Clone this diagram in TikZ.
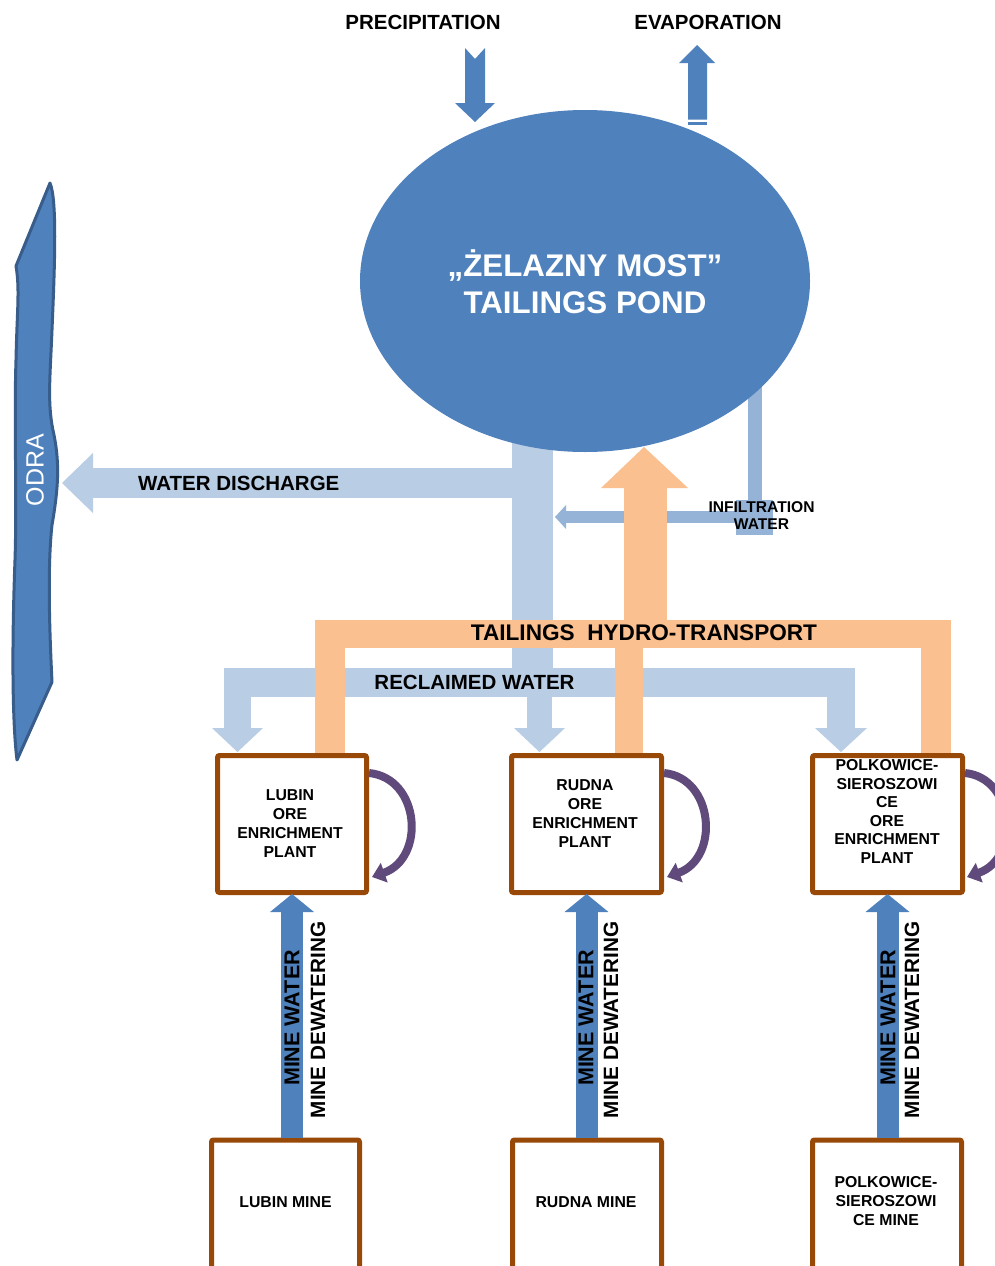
\documentclass[tikz,border=0pt]{standalone}
\usepackage{fontspec}
\setmainfont{Liberation Sans}
\usetikzlibrary{arrows.meta,shapes.geometric}
\definecolor{pond}{HTML}{4F81BD}
\definecolor{riveredge}{HTML}{385D8A}
\definecolor{lightb}{HTML}{B9CDE5}
\definecolor{infil}{HTML}{95B3D7}
\definecolor{tail}{HTML}{FAC090}
\definecolor{brownb}{HTML}{984807}
\definecolor{purp}{HTML}{604A7B}
\begin{document}
\begin{tikzpicture}[x=1pt,y=-1pt,
  biglabel/.style={font=\bfseries\fontsize{20.5}{24}\selectfont, inner sep=0pt},
  smalllabel/.style={font=\bfseries\fontsize{15.8}{19}\selectfont, align=center, inner sep=0pt},
  boxstyle/.style={draw=brownb, line width=5pt, rounded corners=2pt, fill=white, inner sep=0pt},
  loop/.style={draw=purp, line width=8pt, -{Triangle[width=20pt,length=13pt]}},
  minearrow/.style={draw=pond, line width=22pt, -{Triangle[width=43pt,length=18pt]}},
  vlabel/.style={font=\bfseries\fontsize{21.5}{24}\selectfont, rotate=90, inner sep=0pt},
  vlabelb/.style={font=\bfseries\fontsize{20.7}{24}\selectfont, rotate=90, inner sep=0pt}]
\useasboundingbox (0,0) rectangle (995,1266);
\fill[white] (0,0) rectangle (995,1266);

% ---- river ODRA
\draw[fill=pond, draw=riveredge, line width=3pt, line join=round]
  (50,183) .. controls (57,200) and (55,260) .. (52,330)
  .. controls (50,380) and (47,405) .. (54,435)
  .. controls (60,465) and (58,490) .. (52,525)
  .. controls (47,570) and (50,640) .. (52,682)
  -- (17,760)
  .. controls (12,720) and (12,640) .. (15,560)
  .. controls (17,500) and (14,420) .. (16,360)
  .. controls (17,310) and (20,290) .. (16,266)
  -- cycle;
\node[font=\fontsize{25}{30}\selectfont, text=white, rotate=90, inner sep=0pt] (odra) at (35,470) {ODRA};

% ---- light blue (reclaimed / discharge)
\fill[lightb] (512,430) rectangle (553,668);
\fill[lightb] (93,468) rectangle (512,498);
\fill[lightb] (93,453) -- (62,483) -- (93,513) -- cycle;
\fill[lightb] (224,668) rectangle (855,697);
\fill[lightb] (224,697) rectangle (251,728);
\fill[lightb] (212,728) -- (263,728) -- (237.5,752) -- cycle;
\fill[lightb] (527,697) rectangle (552,728);
\fill[lightb] (514,728) -- (565,728) -- (539.5,752) -- cycle;
\fill[lightb] (827,697) rectangle (855,728);
\fill[lightb] (815,728) -- (867,728) -- (841,752) -- cycle;

% ---- infiltration
\fill[infil] (748,380) rectangle (762,500);
\fill[infil] (736,500) rectangle (773,535);
\fill[infil] (566,511) rectangle (748,523);
\fill[infil] (566,505) -- (555,517) -- (566,529) -- cycle;

% ---- pond
\node[ellipse, fill=pond, minimum width=450pt, minimum height=342pt, inner sep=0pt] (pond) at (585,281) {};
\node[font=\bfseries\fontsize{31.3}{37}\selectfont, text=white, align=center, inner sep=0pt] (pondtxt) at (585,282) {„ŻELAZNY MOST”\\TAILINGS POND};

% ---- precipitation / evaporation
\fill[pond] (465,48) -- (475,59) -- (485,48) -- (485,103) -- (495,103) -- (475,122) -- (455,103) -- (465,103) -- cycle;
\fill[pond] (688,119.5) -- (688,63) -- (679,63) -- (697,45) -- (715,63) -- (707,63) -- (707,119.5) -- cycle;
\fill[pond] (688,121.5) rectangle (707,125);
\node[biglabel] (precip) at (423,22) {PRECIPITATION};
\node[biglabel] (evap) at (708,22) {EVAPORATION};

% ---- tailings hydro-transport (orange)
\fill[tail] (624,620) rectangle (667,488);
\fill[tail] (601,488) -- (644,447) -- (688,488) -- cycle;
\fill[tail] (315,620) rectangle (951,648);
\fill[tail] (315,648) rectangle (345,754);
\fill[tail] (615,648) rectangle (643,754);
\fill[tail] (921,648) rectangle (951,754);

% ---- plants
\node[boxstyle, minimum width=149pt, minimum height=137pt] (lubinplant) at (292,824) {};
\node[boxstyle, minimum width=150pt, minimum height=137pt] (rudnaplant) at (586.5,824) {};
\node[boxstyle, minimum width=150pt, minimum height=137pt] (polkplant) at (887.5,824) {};
\node[smalllabel] (lubinptxt) at (290,823.5) {LUBIN\\ORE\\ENRICHMENT\\PLANT};
\node[smalllabel] (rudnaptxt) at (585,813.5) {RUDNA\\ORE\\ENRICHMENT\\PLANT};
\node[smalllabel, font=\bfseries\fontsize{15.8}{18.6}\selectfont] (polkptxt) at (887,811.5) {POLKOWICE-\\SIEROSZOWI\\CE\\ORE\\ENRICHMENT\\PLANT};

% ---- purple loops
\draw[loop] (lubinplant.east |- 0,773) .. controls (420,778) and (426,858) .. (372,877);
\draw[loop] (rudnaplant.east |- 0,773) .. controls (714,778) and (720,858) .. (667,877);
\draw[loop] (polkplant.east |- 0,773) .. controls (1015,778) and (1021,858) .. (967,877);

% ---- mines
\node[boxstyle, minimum width=148pt, minimum height=160pt, anchor=north] (lubinmine) at (285.5,1137.5) {};
\node[boxstyle, minimum width=149pt, minimum height=160pt, anchor=north] (rudnamine) at (587,1137.5) {};
\node[boxstyle, minimum width=149pt, minimum height=160pt, anchor=north] (polkmine) at (887,1137.5) {};
\node[smalllabel] (lubinmtxt) at (285.5,1202) {LUBIN MINE};
\node[smalllabel] (rudnamtxt) at (586,1202) {RUDNA MINE};
\node[smalllabel] (polkmtxt) at (886,1201) {POLKOWICE-\\SIEROSZOWI\\CE MINE};

% ---- mine water arrows
\draw[minearrow] (lubinmine.north -| lubinplant.south) -- ([yshift=1pt]lubinplant.south);
\draw[minearrow] (rudnamine.north -| rudnaplant.south) -- ([yshift=1pt]rudnaplant.south);
\draw[minearrow] (polkmine.north -| polkplant.south) -- ([yshift=1pt]polkplant.south);
\node[vlabel] (mw1) at (292,1018) {MINE WATER};
\node[vlabelb] (md1) at (318,1020) {MINE DEWATERING};
\node[vlabel] (mw2) at (586,1018) {MINE WATER};
\node[vlabelb] (md2) at (611,1020) {MINE DEWATERING};
\node[vlabel] (mw3) at (888,1018) {MINE WATER};
\node[vlabelb] (md3) at (912,1020) {MINE DEWATERING};

% ---- labels
\node[biglabel, anchor=west] (disch) at (138,483) {WATER DISCHARGE};
\node[biglabel] (reclaim) at (474.5,682) {RECLAIMED WATER};
\node[biglabel, font=\bfseries\fontsize{22.6}{26}\selectfont] (tailtxt) at (644,633) {TAILINGS\ \ HYDRO-TRANSPORT};
\node[smalllabel, font=\bfseries\fontsize{15.6}{17}\selectfont] (infiltxt) at (761.5,515.5) {INFILTRATION\\WATER};
\end{tikzpicture}
\end{document}
